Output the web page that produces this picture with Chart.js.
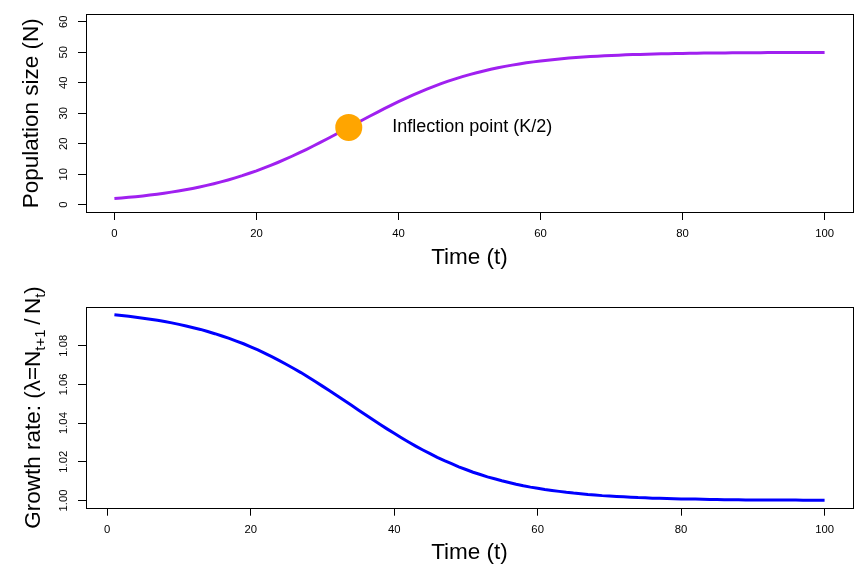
<!DOCTYPE html>
<html>
<head>
<meta charset="utf-8">
<script src="https://cdn.jsdelivr.net/npm/chart.js@4/dist/chart.umd.min.js"></script>
<style>
  html, body { margin: 0; padding: 0; background: #fff; }
  #wrap { position: relative; width: 867px; height: 580px; }
  canvas { position: absolute; left: 0; }
  #c1 { top: 0; }
  #c2 { top: 270px; }
</style>
</head>
<body>
<div id="wrap">
  <canvas id="c1" width="867" height="290"></canvas>
  <canvas id="c2" width="867" height="310"></canvas>
</div>
<script>
// ---------- data ----------
const timeN = Array.from({length: 101}, (_, i) => i); // t = 0..100
const popN = [
  2.00, 2.19, 2.40, 2.63, 2.88, 3.15, 3.45, 3.77, 4.12, 4.49,
  4.90, 5.34, 5.82, 6.34, 6.89, 7.48, 8.12, 8.80, 9.52, 10.30,
  11.11, 11.98, 12.89, 13.84, 14.85, 15.89, 16.97, 18.09, 19.25, 20.43,
  21.64, 22.87, 24.11, 25.36, 26.61, 27.85, 29.09, 30.30, 31.50, 32.66,
  33.79, 34.89, 35.94, 36.95, 37.92, 38.84, 39.70, 40.52, 41.29, 42.01,
  42.68, 43.30, 43.88, 44.42, 44.92, 45.37, 45.79, 46.18, 46.53, 46.85,
  47.15, 47.42, 47.66, 47.89, 48.09, 48.27, 48.44, 48.59, 48.73, 48.85,
  48.96, 49.06, 49.16, 49.24, 49.31, 49.38, 49.44, 49.50, 49.55, 49.59,
  49.63, 49.67, 49.70, 49.73, 49.76, 49.78, 49.80, 49.82, 49.84, 49.86,
  49.87, 49.88, 49.90, 49.91, 49.92, 49.92, 49.93, 49.94, 49.94, 49.95,
  49.96
];
const timeL = Array.from({length: 100}, (_, i) => i + 1); // t = 1..100
const lambdaL = [
  1.0960, 1.0956, 1.0952, 1.0947, 1.0942, 1.0937, 1.0931, 1.0925, 1.0918, 1.0910,
  1.0902, 1.0893, 1.0884, 1.0873, 1.0862, 1.0850, 1.0838, 1.0824, 1.0810, 1.0794,
  1.0778, 1.0760, 1.0742, 1.0723, 1.0703, 1.0682, 1.0661, 1.0638, 1.0615, 1.0591,
  1.0567, 1.0543, 1.0518, 1.0493, 1.0468, 1.0443, 1.0418, 1.0394, 1.0370, 1.0347,
  1.0324, 1.0302, 1.0281, 1.0261, 1.0242, 1.0223, 1.0206, 1.0190, 1.0174, 1.0160,
  1.0146, 1.0134, 1.0122, 1.0112, 1.0102, 1.0093, 1.0084, 1.0076, 1.0069, 1.0063,
  1.0057, 1.0052, 1.0047, 1.0042, 1.0038, 1.0035, 1.0031, 1.0028, 1.0025, 1.0023,
  1.0021, 1.0019, 1.0017, 1.0015, 1.0014, 1.0012, 1.0011, 1.0010, 1.0009, 1.0008,
  1.0007, 1.0007, 1.0006, 1.0005, 1.0005, 1.0004, 1.0004, 1.0004, 1.0003, 1.0003,
  1.0003, 1.0002, 1.0002, 1.0002, 1.0002, 1.0002, 1.0001, 1.0001, 1.0001, 1.0001
];
const inflectionT = [33];
const inflectionN = [25.36];
const inflectionLabel = 'Inflection point (K/2)';

const xTicks = [0, 20, 40, 60, 80, 100];
const xTickLabels = ['0', '20', '40', '60', '80', '100'];
const topYTicks = [0, 10, 20, 30, 40, 50, 60];
const topYTickLabels = ['0', '10', '20', '30', '40', '50', '60'];
const botYTicks = [1.00, 1.02, 1.04, 1.06, 1.08];
const botYTickLabels = ['1.00', '1.02', '1.04', '1.06', '1.08'];

const topTitleY = 'Population size (N)';
const titleX = 'Time (t)';
const botTitleMain1 = 'Growth rate: (\u03BB=N';
const botTitleSub1 = 't+1';
const botTitleMain2 = '\u2009/\u2009N';
const botTitleSub2 = 't';
const botTitleMain3 = ')';

// ---------- styling ----------
const FAMILY = '"Liberation Sans", Arial, Helvetica, sans-serif';
const TICK_FONT = {family: FAMILY, size: 11.3};
const TITLE_FONT = {family: FAMILY, size: 22.5};

function setTicks(values) {
  return function (scale) { scale.ticks = values.map(v => ({value: v})); };
}
function labelFrom(values, labels) {
  return function (value) {
    const i = values.findIndex(v => Math.abs(v - value) < 1e-9);
    return i >= 0 ? labels[i] : '';
  };
}

const boxPlugin = {
  id: 'box',
  afterDraw(chart) {
    const {ctx, chartArea: a} = chart;
    ctx.save();
    ctx.strokeStyle = '#000';
    ctx.lineWidth = 1;
    const l = Math.round(a.left) + 0.5, t = Math.round(a.top) + 0.5;
    const r = Math.round(a.right) + 0.5, b = Math.round(a.bottom) + 0.5;
    ctx.strokeRect(l, t, r - l, b - t);
    ctx.restore();
  }
};

function commonX(min, max, titlePadBottom, xHeight) {
  return {
    type: 'linear', min, max,
    afterBuildTicks: setTicks(xTicks),
    afterFit: s => { s.height = xHeight; },
    grid: {drawOnChartArea: false, drawTicks: true, tickLength: 8, color: '#000', lineWidth: 1},
    border: {display: false},
    ticks: {font: TICK_FONT, color: '#000', padding: 7, maxRotation: 0, minRotation: 0,
            callback: labelFrom(xTicks, xTickLabels)},
    title: {display: true, text: titleX, font: TITLE_FONT, color: '#000',
            padding: {top: 0, bottom: titlePadBottom}}
  };
}
function commonY(min, max, values, labels, pad, title) {
  return {
    type: 'linear', min, max,
    afterBuildTicks: setTicks(values),
    afterFit: s => { s.width = 86; },
    grid: {drawOnChartArea: false, drawTicks: true, tickLength: 8, color: '#000', lineWidth: 1},
    border: {display: false},
    ticks: {font: TICK_FONT, color: '#000', padding: pad, minRotation: 90, maxRotation: 90,
            crossAlign: 'center', callback: labelFrom(values, labels)},
    title: title
  };
}

// ---------- top chart ----------
const inflectionTextPlugin = {
  id: 'inflText',
  afterDatasetsDraw(chart) {
    const {ctx} = chart;
    const px = chart.scales.x.getPixelForValue(inflectionT[0]);
    const py = chart.scales.y.getPixelForValue(inflectionN[0]);
    ctx.save();
    ctx.font = '18px ' + FAMILY;
    ctx.fillStyle = '#000';
    ctx.textAlign = 'left';
    ctx.textBaseline = 'middle';
    ctx.fillText(inflectionLabel, px + 43.5, py);
    ctx.restore();
  }
};

new Chart(document.getElementById('c1'), {
  type: 'line',
  data: {
    datasets: [
      {
        data: inflectionT.map((t, i) => ({x: t, y: inflectionN[i]})),
        showLine: false, pointRadius: 13.5, pointHoverRadius: 13.5,
        pointBackgroundColor: '#FFA500', pointBorderWidth: 0, pointBorderColor: '#FFA500',
        order: 0
      },
      {
        data: timeN.map((t, i) => ({x: t, y: popN[i]})),
        borderColor: '#A020F0', borderWidth: 3, pointRadius: 0, tension: 0,
        fill: false, order: 1
      }
    ]
  },
  options: {
    responsive: false, animation: false, events: [],
    layout: {padding: {left: 0, right: 14, top: 11.3, bottom: 0}},
    plugins: {legend: {display: false}, tooltip: {enabled: false}},
    scales: {
      x: commonX(-4, 104, 19, 78),
      y: commonY(-2.4, 62.4, topYTicks, topYTickLabels, 7.7,
        {display: true, text: topTitleY, font: TITLE_FONT, color: '#000', padding: {top: 18.5, bottom: 0}})
    }
  },
  plugins: [boxPlugin, inflectionTextPlugin]
});

// ---------- bottom chart ----------
const botTitlePlugin = {
  id: 'botTitle',
  afterDraw(chart) {
    const {ctx, chartArea: a} = chart;
    const mainFont = '22.5px ' + FAMILY;
    const subFont = '15px ' + FAMILY;
    const parts = [
      [botTitleMain1, mainFont, 0],
      [botTitleSub1, subFont, 5],
      [botTitleMain2, mainFont, 0],
      [botTitleSub2, subFont, 5],
      [botTitleMain3, mainFont, 0]
    ];
    ctx.save();
    let total = 0;
    parts.forEach(p => { ctx.font = p[1]; p.push(ctx.measureText(p[0]).width); total += p[3]; });
    ctx.translate(40, (a.top + a.bottom) / 2);
    ctx.rotate(-Math.PI / 2);
    ctx.fillStyle = '#000';
    ctx.textAlign = 'left';
    ctx.textBaseline = 'alphabetic';
    let x = -total / 2;
    parts.forEach(p => { ctx.font = p[1]; ctx.fillText(p[0], x, p[2]); x += p[3]; });
    ctx.restore();
  }
};

new Chart(document.getElementById('c2'), {
  type: 'line',
  data: {
    datasets: [
      {
        data: timeL.map((t, i) => ({x: t, y: lambdaL[i]})),
        borderColor: '#0000FF', borderWidth: 3, pointRadius: 0, tension: 0, fill: false
      }
    ]
  },
  options: {
    responsive: false, animation: false, events: [],
    layout: {padding: {left: 0, right: 14, top: 37.3, bottom: 0}},
    plugins: {legend: {display: false}, tooltip: {enabled: false}},
    scales: {
      x: commonX(-2.96, 103.96, 14, 72.3),
      y: commonY(0.99626, 1.09984, botYTicks, botYTickLabels, 3, {display: false})
    }
  },
  plugins: [boxPlugin, botTitlePlugin]
});
</script>
</body>
</html>
